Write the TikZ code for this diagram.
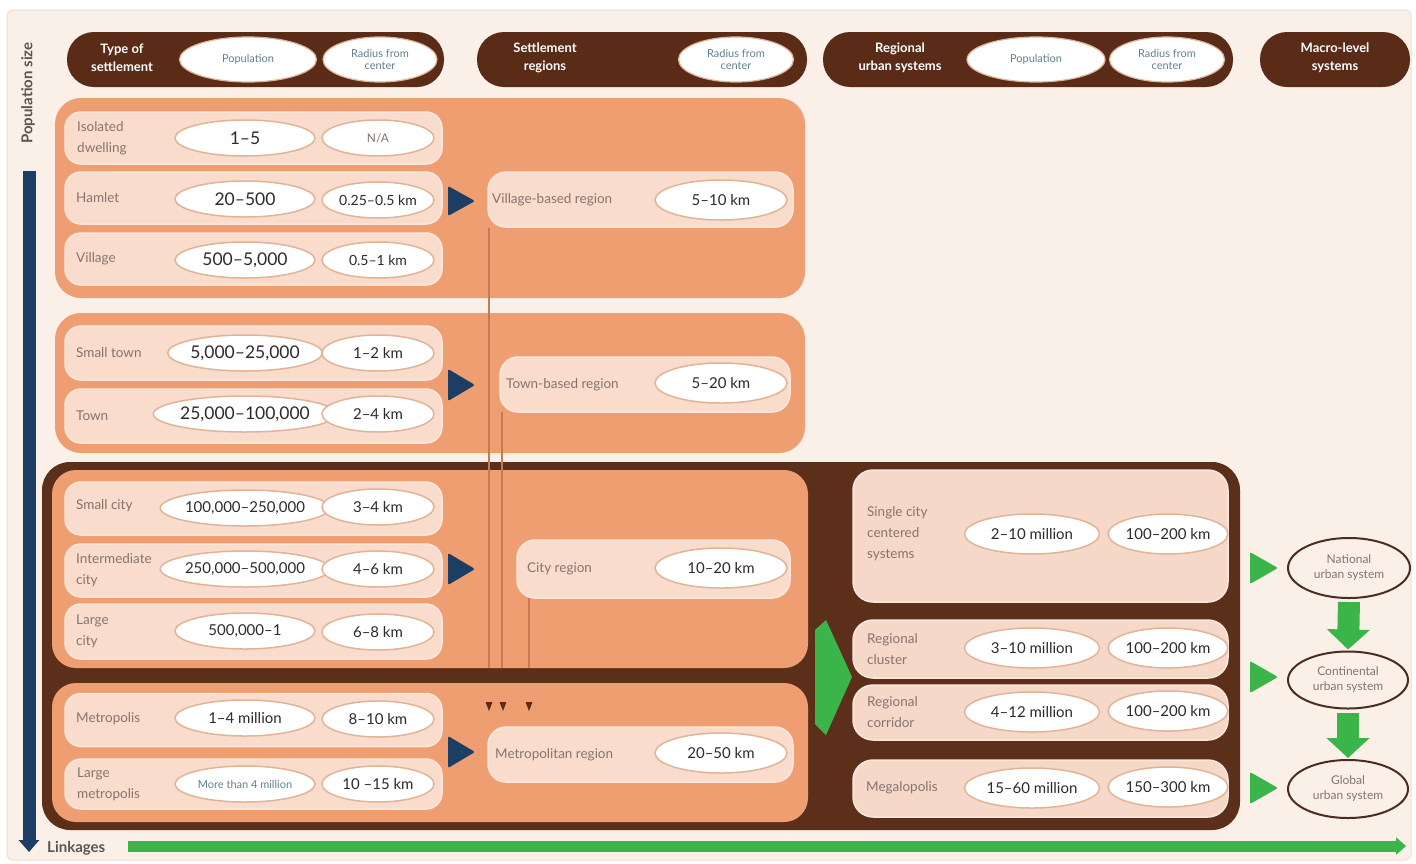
\documentclass[tikz,border=0pt]{standalone}
\usepackage{fontspec}
\setmainfont{Lato}
\usetikzlibrary{shapes.geometric,arrows.meta}
\definecolor{bgcream}{HTML}{FBF0E8}
\definecolor{bgedge}{HTML}{F3DCCF}
\definecolor{hdrbrown}{HTML}{5A2C18}
\definecolor{darkpanel}{HTML}{5C2F1B}
\definecolor{orangep}{HTML}{EF9E72}
\definecolor{rowpink}{HTML}{F9DCCC}
\definecolor{rowedge}{HTML}{FBE7DC}
\definecolor{rightpink}{HTML}{F6D8C9}
\definecolor{ellbd}{HTML}{E0B498}
\definecolor{navy}{HTML}{1D3E63}
\definecolor{greenc}{HTML}{3BB54A}
\definecolor{lblgray}{HTML}{85746F}
\definecolor{numtxt}{HTML}{2E2A28}
\definecolor{hdrtxt}{HTML}{62808F}
\definecolor{linecol}{HTML}{C47A52}
\definecolor{macrobd}{HTML}{4A2C22}
\begin{document}
\begin{tikzpicture}[x=1pt,y=-1pt,
  pill/.style={fill=hdrbrown, rounded corners=27pt, inner sep=0, minimum height=55pt},
  hell/.style={ellipse, fill=white, draw=ellbd, line width=1.2pt, inner sep=0, minimum height=45pt, text=hdrtxt, font=\fontsize{11}{11.5}\selectfont, align=center},
  htext/.style={text=white, font=\bfseries\fontsize{13}{18}\selectfont, align=center},
  panel/.style={fill=orangep, rounded corners=26pt, inner sep=0},
  rowb/.style={fill=rowpink, draw=rowedge, line width=1.5pt, rounded corners=16pt, inner sep=0, minimum width=377pt, minimum height=52pt},
  regb/.style={fill=rowpink, draw=rowedge, line width=1.5pt, rounded corners=18pt, inner sep=0, minimum height=55pt},
  rightb/.style={fill=rightpink, draw=rowedge, line width=1.5pt, rounded corners=20pt, inner sep=0, minimum width=375pt},
  pell/.style={ellipse, fill=white, draw=ellbd, line width=1.5pt, inner sep=0, minimum width=140pt, minimum height=36pt, text=numtxt},
  rell/.style={pell, minimum width=112pt},
  regell/.style={pell, minimum width=132pt, minimum height=40pt},
  rpell/.style={pell, minimum width=135pt, minimum height=40pt},
  rrell/.style={pell, minimum width=108pt, minimum height=40pt},
  bignum/.style={font=\fontsize{17.5}{18}\selectfont},
  midnum/.style={font=\fontsize{15}{16}\selectfont},
  graynum/.style={font=\fontsize{12}{13}\selectfont, text=lblgray},
  lbl/.style={anchor=west, text=lblgray, font=\fontsize{13.5}{21}\selectfont, align=left, inner sep=0},
  macro/.style={ellipse, fill=bgcream, draw=macrobd, line width=2pt, inner sep=0, minimum width=120pt, minimum height=57pt, text=lblgray, font=\fontsize{12}{15}\selectfont, align=center},
  navyhead/.style={fill=navy, rounded corners=2pt},
  greenhead/.style={fill=greenc, rounded corners=2pt},
  linkline/.style={draw=linecol, line width=1.3pt},
  greenblock/.style={draw=greenc, line width=22pt, -{Triangle[length=20pt,width=42pt]}}
]
\useasboundingbox (0,0) rectangle (1416,863);
\fill[white] (0,0) rectangle (1416,863);
\node[fill=bgcream, draw=bgedge, line width=1pt, rounded corners=6pt, minimum width=1404pt, minimum height=850pt, inner sep=0] (bg) at (709,435) {};

% ---------- headers ----------
\node[pill, minimum width=377pt] (h1) at (255.5,59.5) {};
\node[pill, minimum width=330pt] (h2) at (642,59.5) {};
\node[pill, minimum width=410pt] (h3) at (1028,59.5) {};
\node[pill, minimum width=150pt] (h4) at (1335,59.5) {};
\node[htext] (h1t) at (122,58) {Type of\\settlement};
\node[htext] (h2t) at (545,58) {Settlement\\regions};
\node[htext] (h3t) at (900,58) {Regional\\urban systems};
\node[htext] (h4t) at (1335,58) {Macro-level\\systems};
\node[hell, minimum width=137pt] (h1p) at (248,59.5) {Population};
\node[hell, minimum width=114pt] (h1r) at (380,59.5) {Radius from\\center};
\node[hell, minimum width=115pt] (h2r) at (736,59.5) {Radius from\\center};
\node[hell, minimum width=138pt] (h3p) at (1036,59.5) {Population};
\node[hell, minimum width=115pt] (h3r) at (1167,59.5) {Radius from\\center};

% ---------- axes ----------
\node[rotate=90, text=numtxt!80, font=\bfseries\fontsize{15}{15}\selectfont, inner sep=0] (ps) at (28,93) {Population size};
\coordinate (ytop) at (29,171);
\coordinate (ybot) at (29,852);
\draw[navy, line width=13pt, -{Triangle[length=12pt,width=20pt]}] (ytop) -- (ybot);
\node[anchor=west, text=numtxt!80, font=\bfseries\fontsize{15}{15}\selectfont, inner sep=0] (lk) at (47,848) {Linkages};
\coordinate (xl) at (128,846);
\coordinate (xr) at (1406,846);
\draw[greenc, line width=11pt, -{Triangle[length=10pt,width=17pt]}] (xl) -- (xr);

% ---------- orange panels top ----------
\node[panel, minimum width=750pt, minimum height=200pt] (g1) at (430,198) {};
\node[panel, minimum width=750pt, minimum height=140pt] (g2) at (430,383) {};
% ---------- dark panel ----------
\node[fill=darkpanel, rounded corners=28pt, inner sep=0, minimum width=1198pt, minimum height=368pt] (dp) at (641,646) {};
\node[panel, rounded corners=24pt, minimum width=756pt, minimum height=198pt] (g3) at (430,569) {};
\node[panel, rounded corners=24pt, minimum width=756pt, minimum height=139pt] (g4) at (430,752.5) {};

% ---------- connecting lines ----------
\coordinate (l1a) at (489,228); \coordinate (l1b) at (489,668);
\coordinate (l2a) at (502,412); \coordinate (l2b) at (502,668);
\coordinate (l3a) at (529,598); \coordinate (l3b) at (529,668);
\draw[linkline] (l1a) -- (l1b);
\draw[linkline] (l2a) -- (l2b);
\draw[linkline] (l3a) -- (l3b);
\fill[hdrbrown] (485.5,702) -- (492.5,702) -- (489,711) -- cycle;
\fill[hdrbrown] (499.5,702) -- (506.5,702) -- (503,711) -- cycle;
\fill[hdrbrown] (525.5,702) -- (532.5,702) -- (529,711) -- cycle;

% ---------- settlement rows ----------
% group 1
\node[rowb] (r1) at (253.5,138) {};
\node[rowb] (r2) at (253.5,198) {};
\node[rowb] (r3) at (253.5,259) {};
\node[lbl] (r1l) at (77,138) {Isolated\\dwelling};
\node[lbl] (r2l) at (76,198) {Hamlet};
\node[lbl] (r3l) at (76,259) {Village};
\node[pell, bignum] (r1p) at (245,138) {1–5};
\node[rell, graynum] (r1r) at (378,138) {N/A};
\node[pell, bignum] (r2p) at (245,199) {20–500};
\node[rell, font=\fontsize{14}{15}\selectfont] (r2r) at (378,200) {0.25–0.5 km};
\node[pell, bignum] (r3p) at (245,260) {500–5,000};
\node[rell, font=\fontsize{14}{15}\selectfont] (r3r) at (378,260) {0.5–1 km};
% group 2
\node[rowb, minimum height=54pt] (r4) at (253.5,353) {};
\node[rowb, minimum height=54pt] (r5) at (253.5,416) {};
\node[lbl] (r4l) at (76,353) {Small town};
\node[lbl] (r5l) at (76,416) {Town};
\node[pell, bignum] (r4p) at (245,353) {5,000–25,000};
\node[rell, midnum] (r4r) at (378,353) {1–2 km};
\node[pell, bignum] (r5p) at (245,414) {25,000–100,000};
\node[rell, midnum] (r5r) at (378,414) {2–4 km};
% group 3
\node[rowb, minimum height=53pt] (r6) at (253.5,508.5) {};
\node[rowb, minimum height=53pt] (r7) at (253.5,570.5) {};
\node[rowb, minimum height=55pt] (r8) at (253.5,631.5) {};
\node[lbl] (r6l) at (76,506) {Small city};
\node[lbl] (r7l) at (76,570) {Intermediate\\city};
\node[lbl] (r8l) at (76,631) {Large\\city};
\node[pell, midnum] (r6p) at (245,508) {100,000–250,000};
\node[rell, midnum] (r6r) at (378,507) {3–4 km};
\node[pell, midnum] (r7p) at (245,569) {250,000–500,000};
\node[rell, midnum] (r7r) at (378,569) {4–6 km};
\node[pell, midnum] (r8p) at (245,631) {500,000–1};
\node[rell, midnum] (r8r) at (378,632) {6–8 km};
% group 4
\node[rowb, minimum height=53pt] (r9) at (253.5,720) {};
\node[rowb, minimum height=50pt] (r10) at (253.5,784) {};
\node[lbl] (r9l) at (76,719) {Metropolis};
\node[lbl] (r10l) at (77,784) {Large\\metropolis};
\node[pell, midnum] (r9p) at (245,718) {1–4 million};
\node[rell, midnum] (r9r) at (378,719) {8–10 km};
\node[pell, font=\fontsize{11}{12}\selectfont, text=hdrtxt] (r10p) at (245,784) {More than 4 million};
\node[rell, midnum] (r10r) at (378,784) {10 –15 km};

% ---------- navy arrowheads ----------
\fill[navyhead] (448,186) -- (475,201) -- (448,216) -- cycle;
\fill[navyhead] (448,369) -- (475,385) -- (448,401) -- cycle;
\fill[navyhead] (448,553) -- (475,569) -- (448,585) -- cycle;
\fill[navyhead] (448,736) -- (475,752) -- (448,768) -- cycle;

% ---------- settlement regions ----------
\node[regb, minimum width=305pt] (vb) at (640.5,199.5) {};
\node[lbl] (vbl) at (492,199.5) {Village-based region};
\node[regell, midnum] (vbr) at (721,200) {5–10 km};
\node[regb, minimum width=290pt] (tb) at (645,384.5) {};
\node[lbl] (tbl) at (506,384.5) {Town-based region};
\node[regell, midnum] (tbr) at (721,383) {5–20 km};
\node[regb, minimum width=273pt, minimum height=58pt] (cr) at (653.5,569) {};
\node[lbl] (crl) at (527,569) {City region};
\node[regell, midnum] (crr) at (721,568) {10–20 km};
\node[regb, minimum width=305pt] (mr) at (640.5,754.5) {};
\node[lbl] (mrl) at (495,754.5) {Metropolitan region};
\node[regell, midnum] (mrr) at (721,753) {20–50 km};

% ---------- regional urban systems ----------
\node[rightb, minimum height=132pt] (sc) at (1040.5,536) {};
\node[rightb, minimum height=58pt] (rc) at (1040.5,649) {};
\node[rightb, minimum height=55pt] (rco) at (1040.5,712.5) {};
\node[rightb, minimum height=57pt] (mg) at (1040.5,788.5) {};
\node[lbl] (scl) at (867,534) {Single city\\centered\\systems};
\node[lbl] (rcl) at (867,649) {Regional\\cluster};
\node[lbl] (rcol) at (867,712) {Regional\\corridor};
\node[lbl] (mgl) at (866,788) {Megalopolis};
\node[rpell, midnum] (scp) at (1032,534) {2–10 million};
\node[rrell, midnum] (scr) at (1168,534) {100–200 km};
\node[rpell, midnum] (rcp) at (1032,648) {3–10 million};
\node[rrell, midnum] (rcr) at (1168,648) {100–200 km};
\node[rpell, midnum] (rcop) at (1032,712) {4–12 million};
\node[rrell, midnum] (rcor) at (1168,711) {100–200 km};
\node[rpell, midnum] (mgp) at (1032,788) {15–60 million};
\node[rrell, midnum] (mgr) at (1168,787) {150–300 km};

% big green arrow
\fill[greenc] (815,630) -- (826,620) -- (852,677) -- (826,735) -- (815,724) -- cycle;

% ---------- macro-level systems ----------
\node[macro, minimum width=122pt, minimum height=60pt] (nat) at (1349,568) {National\\urban system};
\node[macro] (cont) at (1348,680) {Continental\\urban system};
\node[macro, minimum height=58pt] (glob) at (1348,789) {Global\\urban system};
\fill[greenhead] (1250,552) -- (1278,568) -- (1250,584) -- cycle;
\fill[greenhead] (1250,661) -- (1278,677) -- (1250,693) -- cycle;
\fill[greenhead] (1250,772) -- (1278,788) -- (1250,804) -- cycle;
\draw[greenblock, shorten <=3pt, shorten >=1pt] (nat.south) -- (cont.north);
\draw[greenblock, shorten <=3pt, shorten >=1pt] (cont.south) -- (glob.north);
\end{tikzpicture}
\end{document}
